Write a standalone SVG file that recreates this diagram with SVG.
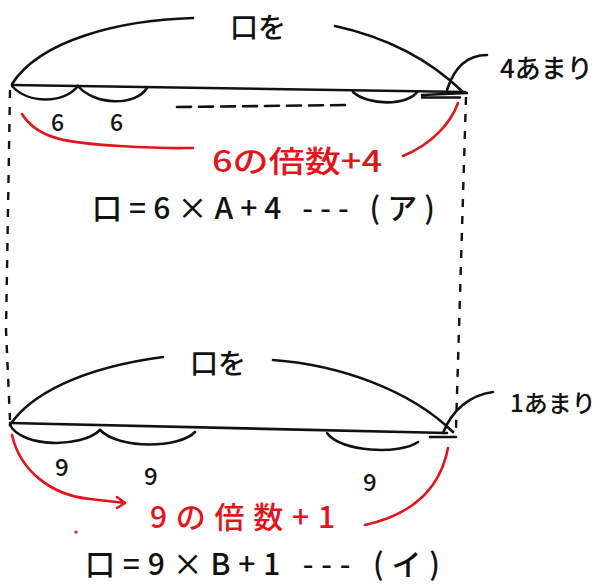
<svg xmlns="http://www.w3.org/2000/svg" width="598" height="584" viewBox="0 0 598 584">
<style>
.k{fill:none;stroke:#111;stroke-width:2.6;stroke-linecap:round;stroke-linejoin:round}
.r{fill:none;stroke:#e3141b;stroke-width:2.6;stroke-linecap:round;stroke-linejoin:round}
.d{fill:none;stroke:#111;stroke-width:2.4;stroke-dasharray:8 9}
.t{font-family:"Noto Sans CJK JP","Noto Sans",sans-serif;font-weight:500;fill:#111;dominant-baseline:central}
.rt{font-family:"Noto Sans CJK JP","Noto Sans",sans-serif;font-weight:500;fill:#e3141b;dominant-baseline:central}
</style>
<rect width="598" height="584" fill="#fff"/>
<g id="guides">
<path class="d" d="M10,90 L6,330 L10,420"/>
<path class="d" d="M466,97 L456,428"/>
</g>
<g id="top-bar">
<path class="k" d="M12,85 L465,92"/>
<path class="k" d="M12,84 C40,40 120,20 193,18"/>
<path class="k" d="M335,26 C390,38 430,60 463,92"/>
<path class="k" d="M12,86 C28,104 64,104 78,86"/>
<path class="k" d="M78,86 C95,106 136,106 147,88"/>
<path class="k" d="M353,92 C368,106 408,106 418,91"/>
<path class="k" d="M422,95 L467,93 M422,97.5 L460,97.5"/>
<path class="k" d="M177,107 L350,105" stroke-dasharray="14 8"/>
<path class="k" d="M447,90 C455,65 470,55 487,55"/>
<text class="t" x="230" y="26" font-size="28">口を</text>
<text class="t" x="500" y="66" font-size="26">4あまり</text>
<text class="t" x="51" y="121" font-size="23">6</text>
<text class="t" x="110" y="121" font-size="23">6</text>
</g>
<g id="top-red">
<path class="r" d="M22,114 C38,140 70,143 120,146 S180,148 193,148"/>
<path class="r" d="M458,103 C450,125 430,145 403,156"/>
<text class="rt" x="212" y="159" font-size="30" textLength="170" lengthAdjust="spacingAndGlyphs">6の倍数+4</text>
</g>
<g id="eq-a">
<text class="t" x="92" y="206" font-size="30" textLength="343" lengthAdjust="spacing">口=6×A+4 --- (ア)</text>
</g>
<g id="bottom-bar">
<path class="k" d="M10,423 L447,433"/>
<path class="k" d="M10,425 C30,395 80,368 163,357"/>
<path class="k" d="M273,360 C340,365 410,390 453,432"/>
<path class="k" d="M10,425 C22,448 82,448 100,430"/>
<path class="k" d="M100,430 C120,450 180,448 195,432"/>
<path class="k" d="M327,433 C340,452 400,455 418,442"/>
<path class="k" d="M430,437 L456,437" stroke-width="4.5"/>
<path class="k" d="M443,433 C452,410 470,395 493,392"/>
<text class="t" x="190" y="362" font-size="28">口を</text>
<text class="t" x="510" y="401" font-size="24">1あまり</text>
<text class="t" x="55" y="465" font-size="24">9</text>
<text class="t" x="144" y="474" font-size="24">9</text>
<text class="t" x="363" y="480" font-size="24">9</text>
</g>
<g id="bottom-red">
<path class="r" d="M12,435 C20,470 50,495 90,499 L125,503 M117,497 L125,503 L117,508"/>
<path class="r" d="M448,448 C440,490 410,515 365,525"/>
<circle cx="76" cy="532" r="1.6" fill="#e3141b"/>
<text class="rt" x="150" y="515" font-size="30" textLength="185" lengthAdjust="spacing">9の倍数+1</text>
</g>
<g id="eq-b">
<text class="t" x="85" y="562" font-size="30" textLength="355" lengthAdjust="spacing">口=9×B+1 --- (イ)</text>
</g>
</svg>
